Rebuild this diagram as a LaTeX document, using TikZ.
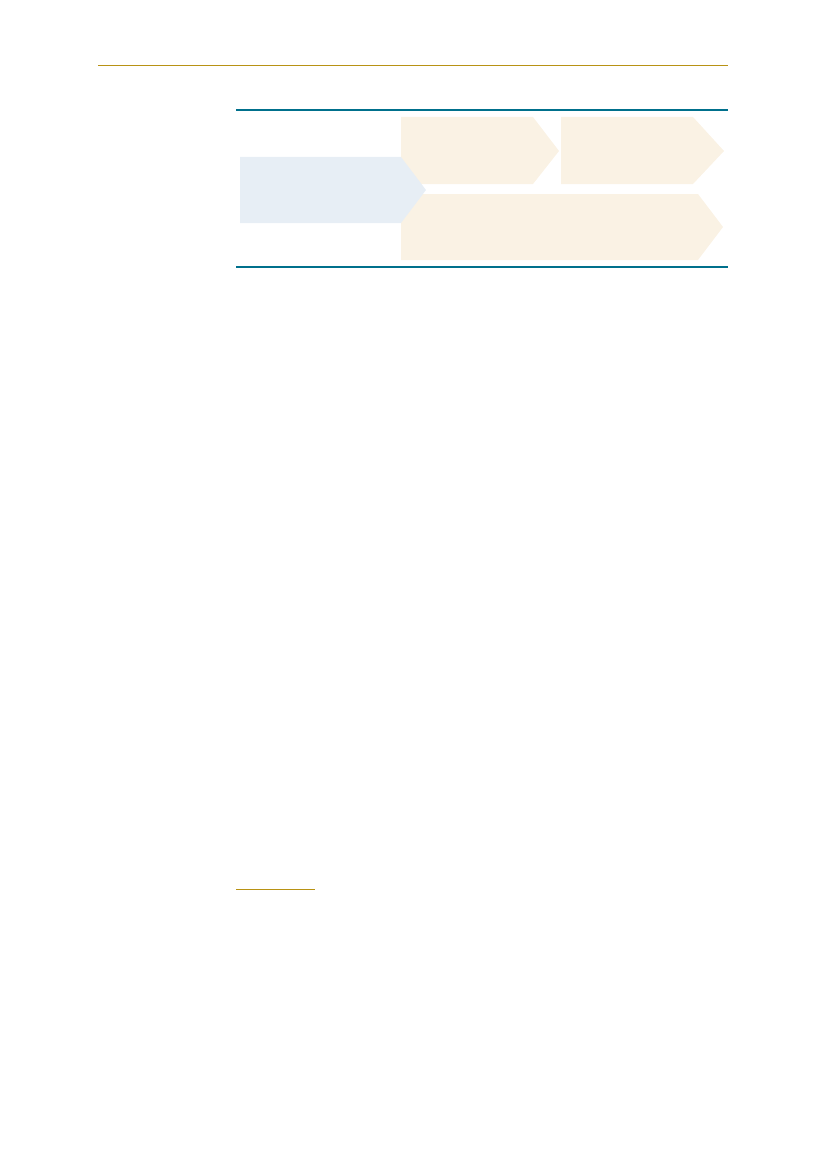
\documentclass[tikz,border=0pt]{standalone}
\usepackage{tikz}
\definecolor{rulegold}{RGB}{184,146,20}
\definecolor{ruleteal}{RGB}{0,112,140}
\definecolor{paleblue}{RGB}{231,238,245}
\definecolor{palegold}{RGB}{250,242,228}

\begin{document}
\begin{tikzpicture}[x=0.2539mm, y=-0.2539mm, rulebar/.style={ruleteal,line width=0.8pt}, goldrule/.style={rulegold,line width=0.7pt}, goldarrow/.style={fill=palegold}, bluearrow/.style={fill=paleblue}]
		\useasboundingbox (0,0) rectangle (827,1169);
		\draw[goldrule] (98,65) -- (728,65);
		\draw[rulebar] (236,110) -- (728,110);
		\draw[rulebar] (236,267) -- (728,267);
		\fill[goldarrow] (401,117) -- (533,117) -- (559,151) -- (533,184) -- (401,184) -- cycle;
		\fill[goldarrow] (561,117) -- (693,117) -- (724,151) -- (693,184) -- (561,184) -- cycle;
		\fill[goldarrow] (401,194) -- (698,194) -- (723,227) -- (698,260) -- (401,260) -- cycle;
		\fill[bluearrow] (240,157) -- (401,157) -- (426,190) -- (401,223) -- (240,223) -- cycle;
		\draw[goldrule] (236,889) -- (315,889);
	\end{tikzpicture}
\end{document}
